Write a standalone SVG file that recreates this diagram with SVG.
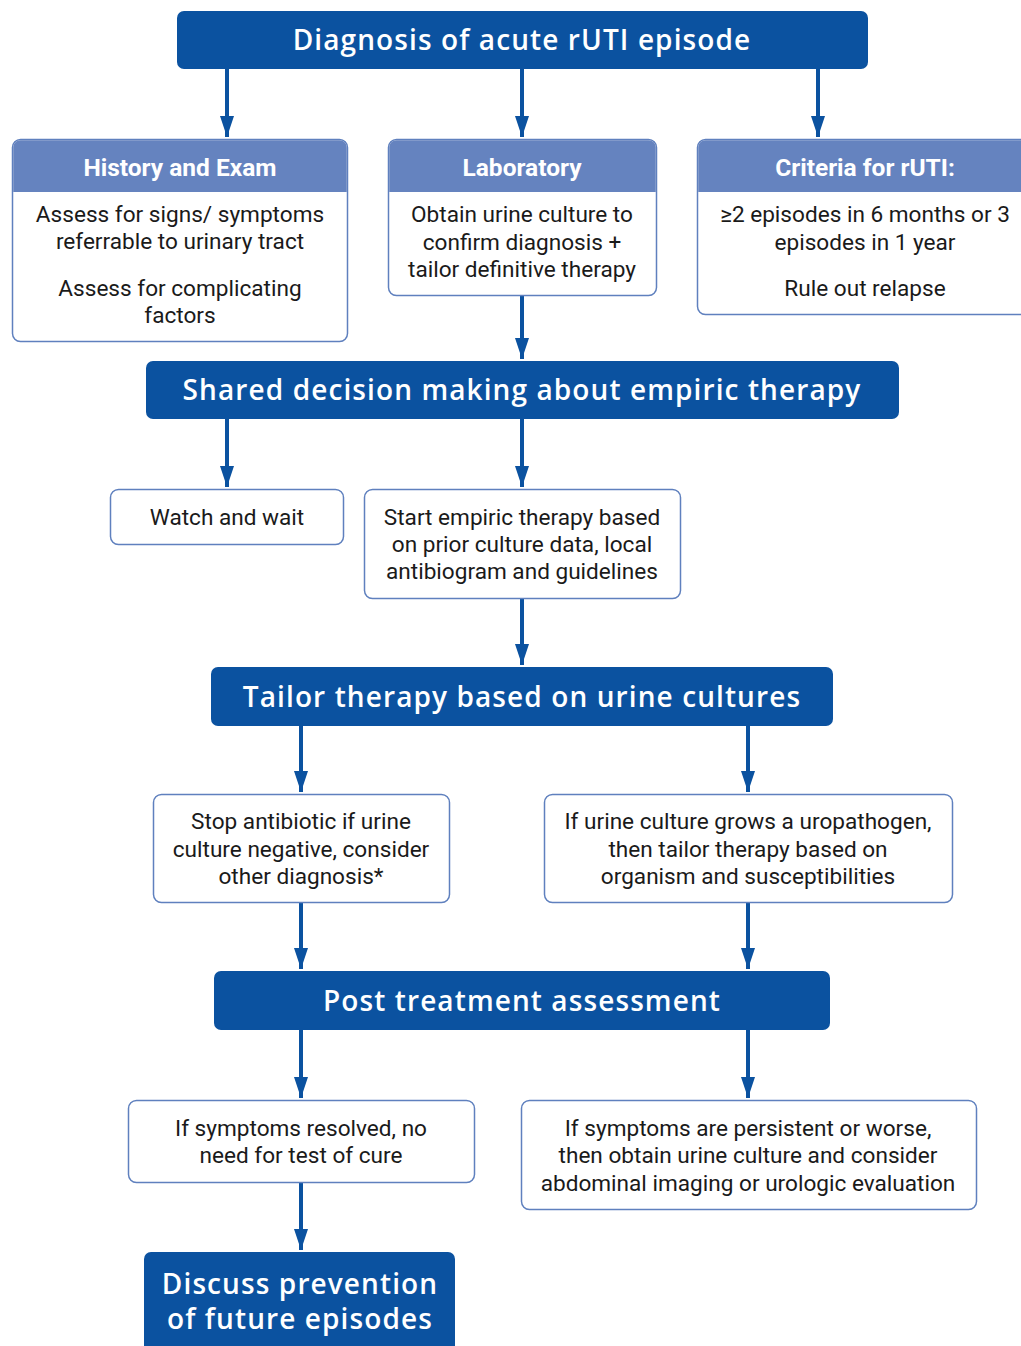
<svg xmlns="http://www.w3.org/2000/svg" width="1021" height="1346" viewBox="0 0 1021 1346">
<style>
.main{fill:#0B52A0;}
.mt{fill:#fff;font-family:"Open Sans",sans-serif;font-weight:600;font-size:28px;letter-spacing:1.1px;text-anchor:middle;}
.box{fill:#fff;stroke:#5F80BE;stroke-width:1.5;}
.hdr{fill:#6583BF;}
.ht{fill:#fff;font-family:Roboto,sans-serif;font-weight:700;font-size:24.5px;text-anchor:middle;}
.bt{fill:#1a1a1a;font-family:Roboto,sans-serif;font-size:22.6px;text-anchor:middle;}
.conn{stroke:#0B52A0;stroke-width:4;fill:none;marker-end:url(#ah);}
</style>
<defs>
<marker id="ah" markerUnits="userSpaceOnUse" markerWidth="22" markerHeight="16" refX="21" refY="8" orient="auto" viewBox="0 0 22 16">
<path d="M0,1 L21,8 L0,15 Z" fill="#0B52A0"/>
</marker>
</defs>
<rect width="1021" height="1346" fill="#fff"/>
<g id="connectors">
<path class="conn" d="M227,69 V137"/>
<path class="conn" d="M522,69 V137"/>
<path class="conn" d="M818,69 V137"/>
<path class="conn" d="M522,295 V359"/>
<path class="conn" d="M227,419 V487"/>
<path class="conn" d="M522,419 V487"/>
<path class="conn" d="M522,598 V665"/>
<path class="conn" d="M301,726 V792"/>
<path class="conn" d="M748,726 V792"/>
<path class="conn" d="M301,902 V969"/>
<path class="conn" d="M748,902 V969"/>
<path class="conn" d="M301,1030 V1098"/>
<path class="conn" d="M748,1030 V1098"/>
<path class="conn" d="M301,1182 V1250"/>
</g>
<g id="n-diagnosis">
<rect class="main" x="177" y="11" width="691" height="58" rx="7"/>
<text class="mt" x="522" y="50">Diagnosis of acute rUTI episode</text>
</g>
<g id="n-history">
<rect class="box" x="12.5" y="139.5" width="335" height="202" rx="8"/>
<path class="hdr" d="M13.25,192 V147.5 a7.25,7.25 0 0 1 7.25,-7.25 H339.5 a7.25,7.25 0 0 1 7.25,7.25 V192 Z"/>
<text class="ht" x="180" y="176">History and Exam</text>
<text class="bt" x="180" y="222">Assess for signs/ symptoms</text>
<text class="bt" x="180" y="249">referrable to urinary tract</text>
<text class="bt" x="180" y="296">Assess for complicating</text>
<text class="bt" x="180" y="323">factors</text>
</g>
<g id="n-lab">
<rect class="box" x="388.5" y="139.5" width="268" height="156" rx="8"/>
<path class="hdr" d="M389.25,192 V147.5 a7.25,7.25 0 0 1 7.25,-7.25 H648.5 a7.25,7.25 0 0 1 7.25,7.25 V192 Z"/>
<text class="ht" x="522" y="176">Laboratory</text>
<text class="bt" x="522" y="222">Obtain urine culture to</text>
<text class="bt" x="522" y="250">confirm diagnosis +</text>
<text class="bt" x="522" y="277">tailor definitive therapy</text>
</g>
<g id="n-criteria">
<rect class="box" x="697.5" y="139.5" width="340" height="175" rx="8"/>
<path class="hdr" d="M698.25,192 V147.5 a7.25,7.25 0 0 1 7.25,-7.25 H1030 V192 Z"/>
<text class="ht" x="865" y="176">Criteria for rUTI:</text>
<text class="bt" x="865" y="222">≥2 episodes in 6 months or 3</text>
<text class="bt" x="865" y="250">episodes in 1 year</text>
<text class="bt" x="865" y="296">Rule out relapse</text>
</g>
<g id="n-shared">
<rect class="main" x="146" y="361" width="753" height="58" rx="7"/>
<text class="mt" x="522" y="400">Shared decision making about empiric therapy</text>
</g>
<g id="n-watch">
<rect class="box" x="110.5" y="489.5" width="233" height="55" rx="8"/>
<text class="bt" x="227" y="525">Watch and wait</text>
</g>
<g id="n-start">
<rect class="box" x="364.5" y="489.5" width="316" height="109" rx="8"/>
<text class="bt" x="522" y="525">Start empiric therapy based</text>
<text class="bt" x="522" y="552">on prior culture data, local</text>
<text class="bt" x="522" y="579">antibiogram and guidelines</text>
</g>
<g id="n-tailor">
<rect class="main" x="211" y="667" width="622" height="59" rx="7"/>
<text class="mt" x="522" y="707">Tailor therapy based on urine cultures</text>
</g>
<g id="n-stop">
<rect class="box" x="153.5" y="794.5" width="296" height="108" rx="8"/>
<text class="bt" x="301" y="829">Stop antibiotic if urine</text>
<text class="bt" x="301" y="857">culture negative, consider</text>
<text class="bt" x="301" y="884">other diagnosis*</text>
</g>
<g id="n-grows">
<rect class="box" x="544.5" y="794.5" width="408" height="108" rx="8"/>
<text class="bt" x="748" y="829">If urine culture grows a uropathogen,</text>
<text class="bt" x="748" y="857">then tailor therapy based on</text>
<text class="bt" x="748" y="884">organism and susceptibilities</text>
</g>
<g id="n-post">
<rect class="main" x="214" y="971" width="616" height="59" rx="7"/>
<text class="mt" x="522" y="1011">Post treatment assessment</text>
</g>
<g id="n-resolved">
<rect class="box" x="128.5" y="1100.5" width="346" height="82" rx="8"/>
<text class="bt" x="301" y="1136">If symptoms resolved, no</text>
<text class="bt" x="301" y="1163">need for test of cure</text>
</g>
<g id="n-persistent">
<rect class="box" x="521.5" y="1100.5" width="455" height="109" rx="8"/>
<text class="bt" x="748" y="1136">If symptoms are persistent or worse,</text>
<text class="bt" x="748" y="1163">then obtain urine culture and consider</text>
<text class="bt" x="748" y="1191">abdominal imaging or urologic evaluation</text>
</g>
<g id="n-discuss">
<rect class="main" x="144" y="1252" width="311" height="110" rx="7"/>
<text class="mt" x="300" y="1294">Discuss prevention</text>
<text class="mt" x="300" y="1329">of future episodes</text>
</g>
</svg>
